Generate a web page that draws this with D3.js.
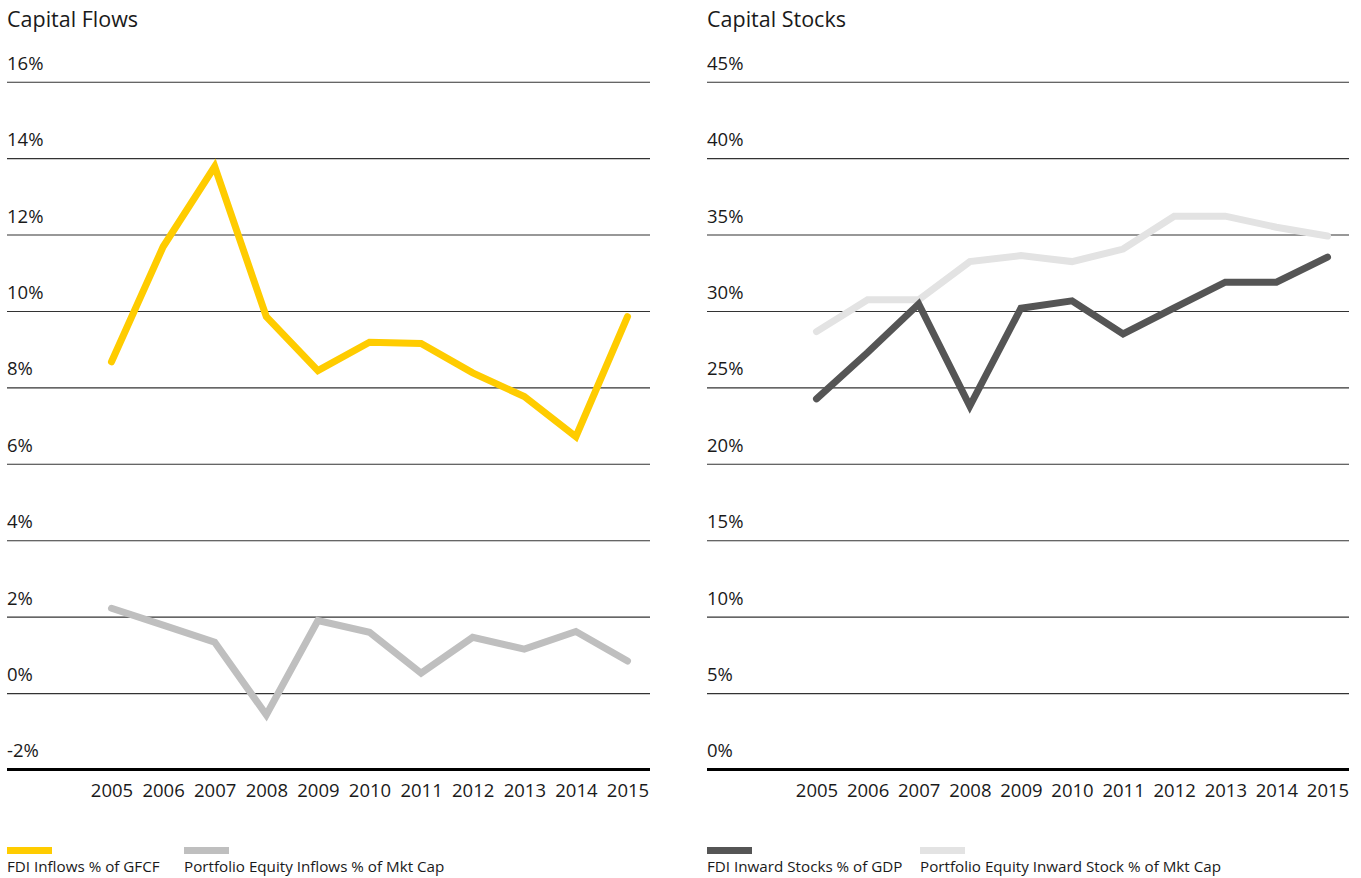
<!DOCTYPE html>
<html>
<head>
<meta charset="utf-8">
<script src="https://cdn.jsdelivr.net/npm/d3@7"></script>
<style>
  html, body { margin: 0; padding: 0; background: #fff; }
  svg { display: block; font-family: "Open Sans", "Noto Sans", sans-serif; }
  .tick text { fill: #1a1a1a; }
</style>
</head>
<body>
<svg id="chart" width="1361" height="878"></svg>
<script>
// Years along the x axis
const years = [2005, 2006, 2007, 2008, 2009, 2010, 2011, 2012, 2013, 2014, 2015];

// Capital flows (% values)
const fdiInflowsGFCF = [8.67, 11.68, 13.78, 9.85, 8.44, 9.18, 9.15, 8.38, 7.76, 6.71, 9.85];
const portfolioInflowsMktCap = [2.22, 1.78, 1.33, -0.57, 1.90, 1.59, 0.52, 1.46, 1.15, 1.61, 0.84];

// Capital stocks (% values)
const fdiInwardStocksGDP = [24.25, 27.28, 30.46, 23.78, 30.18, 30.66, 28.5, 30.2, 31.88, 31.88, 33.52];
const portfolioInwardStockMktCap = [28.65, 30.73, 30.73, 33.23, 33.62, 33.23, 34.05, 36.2, 36.2, 35.48, 34.9];

// Axis tick values
const flowTicks = [-2, 0, 2, 4, 6, 8, 10, 12, 14, 16];
const stockTicks = [0, 5, 10, 15, 20, 25, 30, 35, 40, 45];

const svg = d3.select("#chart");

function panel(opts) {
  const g = svg.append("g");
  const x = d3.scalePoint().domain(years).range([opts.px0, opts.px1]);
  const y = d3.scaleLinear().domain(opts.domain).range([769.5, 81.7]);

  // Title
  g.append("text")
    .attr("x", opts.left)
    .attr("y", 27)
    .attr("font-size", 21.5)
    .attr("fill", "#1a1a1a")
    .text(opts.title);

  // Horizontal gridlines with labels sitting above each line
  const yAxis = d3.axisRight(y)
    .tickValues(opts.ticks.slice(1))
    .tickSize(opts.right - opts.left)
    .tickFormat(d => d + "%");
  const ga = g.append("g")
    .attr("transform", `translate(${opts.left},0)`)
    .call(yAxis);
  ga.select(".domain").remove();
  ga.selectAll(".tick line").attr("stroke", "#333").attr("stroke-width", 1.1);
  ga.selectAll(".tick text")
    .attr("x", 0)
    .attr("dy", -12.5)
    .attr("text-anchor", "start")
    .attr("font-size", 18.5)
    .attr("font-family", "'Open Sans', sans-serif");

  // Bottom baseline label and thick axis line
  g.append("text")
    .attr("x", opts.left)
    .attr("y", y(opts.ticks[0]) - 12.5)
    .attr("font-size", 18.5)
    .attr("fill", "#1a1a1a")
    .text(opts.ticks[0] + "%");

  const xAxis = d3.axisBottom(x).tickSize(0).tickPadding(14);
  const gx = g.append("g")
    .attr("transform", `translate(0,${y(opts.ticks[0])})`)
    .call(xAxis);
  gx.select(".domain").remove();
  gx.selectAll(".tick text")
    .attr("font-size", 18.5)
    .attr("font-family", "'Open Sans', sans-serif")
    .attr("dy", "0.75em");
  g.append("line")
    .attr("x1", opts.left).attr("x2", opts.right)
    .attr("y1", y(opts.ticks[0])).attr("y2", y(opts.ticks[0]))
    .attr("stroke", "#000").attr("stroke-width", 3);

  // Series lines
  const line = d3.line().x((d, i) => x(years[i])).y(d => y(d));
  opts.series.forEach(s => {
    g.append("path")
      .datum(s.values)
      .attr("d", line)
      .attr("fill", "none")
      .attr("stroke", s.color)
      .attr("stroke-width", 7)
      .attr("stroke-linecap", "round")
      .attr("stroke-linejoin", "miter");
  });

  // Legend
  opts.series.slice().sort((a, b) => a.order - b.order).forEach(s => {
    g.append("rect")
      .attr("x", s.lx).attr("y", 847)
      .attr("width", 45).attr("height", 7)
      .attr("fill", s.color);
    g.append("text")
      .attr("x", s.lx).attr("y", 872)
      .attr("font-size", 15.2)
      .attr("fill", "#1a1a1a")
      .text(s.name);
  });
}

panel({
  title: "Capital Flows",
  left: 7, right: 650,
  px0: 111.5, px1: 627.5,
  domain: [-2, 16],
  ticks: flowTicks,
  series: [
    { name: "Portfolio Equity Inflows % of Mkt Cap", values: portfolioInflowsMktCap, color: "#bfbfbf", lx: 184, order: 1 },
    { name: "FDI Inflows % of GFCF", values: fdiInflowsGFCF, color: "#ffcc00", lx: 7, order: 0 }
  ]
});

panel({
  title: "Capital Stocks",
  left: 707, right: 1349,
  px0: 816.5, px1: 1327.5,
  domain: [0, 45],
  ticks: stockTicks,
  series: [
    { name: "Portfolio Equity Inward Stock % of Mkt Cap", values: portfolioInwardStockMktCap, color: "#e3e3e3", lx: 920, order: 1 },
    { name: "FDI Inward Stocks % of GDP", values: fdiInwardStocksGDP, color: "#555555", lx: 707, order: 0 }
  ]
});
</script>
</body>
</html>
